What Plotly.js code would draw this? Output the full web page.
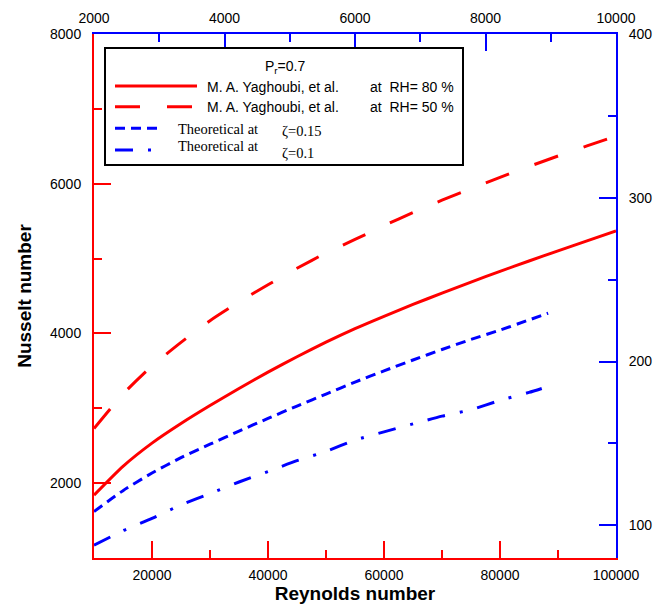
<!DOCTYPE html>
<html>
<head>
<meta charset="utf-8">
<script src="https://cdn.plot.ly/plotly-3.0.1.min.js"></script>
<style>
  html, body { margin: 0; padding: 0; background: #fff; }
  #chart { width: 659px; height: 613px; }
</style>
</head>
<body>
<div id="chart"></div>
<script>
// ---- data ----
const reynolds = [10000, 15000, 20000, 25000, 30000, 35000, 40000, 45000, 50000, 55000, 60000, 65000, 70000, 75000, 80000, 85000, 90000, 95000, 100000];
const nuRH80 = [1840, 2225, 2535, 2797, 3037, 3265, 3483, 3689, 3883, 4064, 4229, 4387, 4539, 4686, 4829, 4968, 5103, 5236, 5368];
const nuRH50 = [2730, 3190, 3565, 3880, 4170, 4420, 4650, 4870, 5075, 5255, 5440, 5615, 5780, 5935, 6085, 6230, 6370, 6505, 6635];

const reTheo015 = [10000, 15000, 20000, 25000, 30000, 35000, 40000, 45000, 50000, 55000, 60000, 65000, 70000, 75000, 80000, 85000, 88300];
const nuTheo015 = [1620, 1900, 2135, 2340, 2520, 2695, 2865, 3030, 3190, 3350, 3500, 3645, 3785, 3920, 4045, 4180, 4270];

const reTheo01 = [10000, 15000, 20000, 25000, 30000, 35000, 40000, 45000, 50000, 55000, 60000, 65000, 70000, 75000, 80000, 85000, 87200];
const nuTheo01 = [1170, 1365, 1530, 1710, 1860, 2015, 2155, 2300, 2425, 2575, 2685, 2792, 2895, 2981, 3105, 3212, 3265];

const bottomTicks = [20000, 40000, 60000, 80000, 100000];
const leftTicks = [2000, 4000, 6000, 8000];
const topTicks = [2000, 4000, 6000, 8000, 10000];
const rightTicks = [100, 200, 300, 400];

const seriesNames = ['M. A. Yaghoubi, et al. at RH= 80 %', 'M. A. Yaghoubi, et al. at RH= 50 %', 'Theoretical at ζ=0.15', 'Theoretical at ζ=0.1'];

// ---- styles ----
const RED = '#ff0000';
const BLUE = '#0000ff';
const FONT = 'Arial, "Liberation Sans", sans-serif';
const SERIF = '"Times New Roman", "Liberation Serif", serif';

const traces = [
  { x: reynolds, y: nuRH80, name: seriesNames[0], mode: 'lines', line: { color: RED, width: 3, shape: 'spline', smoothing: 0.6 } },
  { x: reynolds, y: nuRH50, name: seriesNames[1], mode: 'lines', line: { color: RED, width: 3, dash: '25px,27px', shape: 'spline', smoothing: 0.6 } },
  { x: reTheo015, y: nuTheo015, name: seriesNames[2], mode: 'lines', line: { color: BLUE, width: 3, dash: '10px,6px', shape: 'spline', smoothing: 0.6 } },
  { x: reTheo01, y: nuTheo01, name: seriesNames[3], mode: 'lines', line: { color: BLUE, width: 3, dash: '18px,15px,3px,15px', shape: 'spline', smoothing: 0.6 } },
  { x: [], y: [], xaxis: 'x2', yaxis: 'y2', mode: 'lines', showlegend: false, hoverinfo: 'skip' }
];

function axisBase(color) {
  return {
    showline: true, linecolor: color, linewidth: 2,
    showgrid: false, zeroline: false,
    ticks: 'inside', ticklen: 17, tickwidth: 2, tickcolor: color,
    tickfont: { family: FONT, size: 14, color: '#000' },
    tickmode: 'array'
  };
}

// paper coords helpers for the hand-drawn legend box
const PL = 94, PR = 616, PT = 34, PB = 558;
const px = v => (v - PL) / (PR - PL);
const py = v => (PB - v) / (PB - PT);

const layout = {
  width: 659, height: 613,
  margin: { l: 94, r: 43, t: 34, b: 55 },
  paper_bgcolor: '#fff', plot_bgcolor: '#fff',
  showlegend: false,
  xaxis: Object.assign(axisBase(RED), {
    range: [10000, 100000], tickvals: bottomTicks, ticktext: bottomTicks.map(String),
    ticklabelstandoff: 3,
    minor: { dtick: 10000, tick0: 0, ticks: 'inside', ticklen: 8, tickwidth: 2, tickcolor: RED },
    title: { text: '<b>Reynolds number</b>', font: { family: FONT, size: 19, color: '#000' }, standoff: 0 }
  }),
  yaxis: Object.assign(axisBase(RED), {
    range: [1000, 8000], tickvals: leftTicks, ticktext: leftTicks.map(String),
    ticklabelstandoff: 8,
    minor: { dtick: 1000, tick0: 0, ticks: 'inside', ticklen: 8, tickwidth: 2, tickcolor: RED },
    title: { text: '<b>Nusselt number</b>', font: { family: FONT, size: 19, color: '#000' }, standoff: 13 }
  }),
  xaxis2: Object.assign(axisBase(BLUE), {
    overlaying: 'x', side: 'top', anchor: 'y2',
    range: [2000, 10000], tickvals: topTicks, ticktext: topTicks.map(String),
    ticklabelstandoff: 3,
    minor: { dtick: 1000, tick0: 0, ticks: 'inside', ticklen: 8, tickwidth: 2, tickcolor: BLUE }
  }),
  yaxis2: Object.assign(axisBase(BLUE), {
    overlaying: 'y', side: 'right', anchor: 'x2',
    range: [80, 400], tickvals: rightTicks, ticktext: rightTicks.map(String),
    ticklabelstandoff: 8,
    minor: { dtick: 50, tick0: 0, ticks: 'inside', ticklen: 8, tickwidth: 2, tickcolor: BLUE }
  }),
  shapes: [
    { type: 'rect', xref: 'paper', yref: 'paper', x0: px(105), x1: px(463), y0: py(165), y1: py(48),
      line: { color: '#000', width: 2 }, fillcolor: '#fff', layer: 'above' },
    { type: 'line', xref: 'paper', yref: 'paper', x0: px(115), x1: px(197), y0: py(86), y1: py(86),
      line: { color: RED, width: 3 }, layer: 'above' },
    { type: 'line', xref: 'paper', yref: 'paper', x0: px(115), x1: px(193), y0: py(106.7), y1: py(106.7),
      line: { color: RED, width: 3, dash: '25px,27px' }, layer: 'above' },
    { type: 'line', xref: 'paper', yref: 'paper', x0: px(115), x1: px(159), y0: py(128.3), y1: py(128.3),
      line: { color: BLUE, width: 3, dash: '10px,6px' }, layer: 'above' },
    { type: 'line', xref: 'paper', yref: 'paper', x0: px(115), x1: px(152), y0: py(150), y1: py(150),
      line: { color: BLUE, width: 3, dash: '18px,15px,3px,15px' }, layer: 'above' }
  ],
  annotations: [
    { xref: 'paper', yref: 'paper', x: px(285), y: py(67), xanchor: 'center', yanchor: 'middle', showarrow: false,
      text: 'P<sub>r</sub>=0.7', font: { family: FONT, size: 14, color: '#000' } },
    { xref: 'paper', yref: 'paper', x: px(205), y: py(86.5), xanchor: 'left', yanchor: 'middle', showarrow: false,
      text: 'M. A. Yaghoubi, et al.', font: { family: FONT, size: 14, color: '#000' } },
    { xref: 'paper', yref: 'paper', x: px(367.5), y: py(86.5), xanchor: 'left', yanchor: 'middle', showarrow: false,
      text: 'at\u00a0 RH= 80 %', font: { family: FONT, size: 14, color: '#000' } },
    { xref: 'paper', yref: 'paper', x: px(205), y: py(107), xanchor: 'left', yanchor: 'middle', showarrow: false,
      text: 'M. A. Yaghoubi, et al.', font: { family: FONT, size: 14, color: '#000' } },
    { xref: 'paper', yref: 'paper', x: px(367.5), y: py(107), xanchor: 'left', yanchor: 'middle', showarrow: false,
      text: 'at\u00a0 RH= 50 %', font: { family: FONT, size: 14, color: '#000' } },
    { xref: 'paper', yref: 'paper', x: px(176), y: py(129), xanchor: 'left', yanchor: 'middle', showarrow: false,
      text: 'Theoretical at', font: { family: SERIF, size: 14.5, color: '#000' } },
    { xref: 'paper', yref: 'paper', x: px(280), y: py(131), xanchor: 'left', yanchor: 'middle', showarrow: false,
      text: 'ζ=0.15', font: { family: SERIF, size: 14.5, color: '#000' } },
    { xref: 'paper', yref: 'paper', x: px(176), y: py(145.5), xanchor: 'left', yanchor: 'middle', showarrow: false,
      text: 'Theoretical at', font: { family: SERIF, size: 14.5, color: '#000' } },
    { xref: 'paper', yref: 'paper', x: px(280), y: py(153), xanchor: 'left', yanchor: 'middle', showarrow: false,
      text: 'ζ=0.1', font: { family: SERIF, size: 14.5, color: '#000' } }
  ]
};

Plotly.newPlot('chart', traces, layout, { displayModeBar: false, staticPlot: true });
</script>
</body>
</html>
